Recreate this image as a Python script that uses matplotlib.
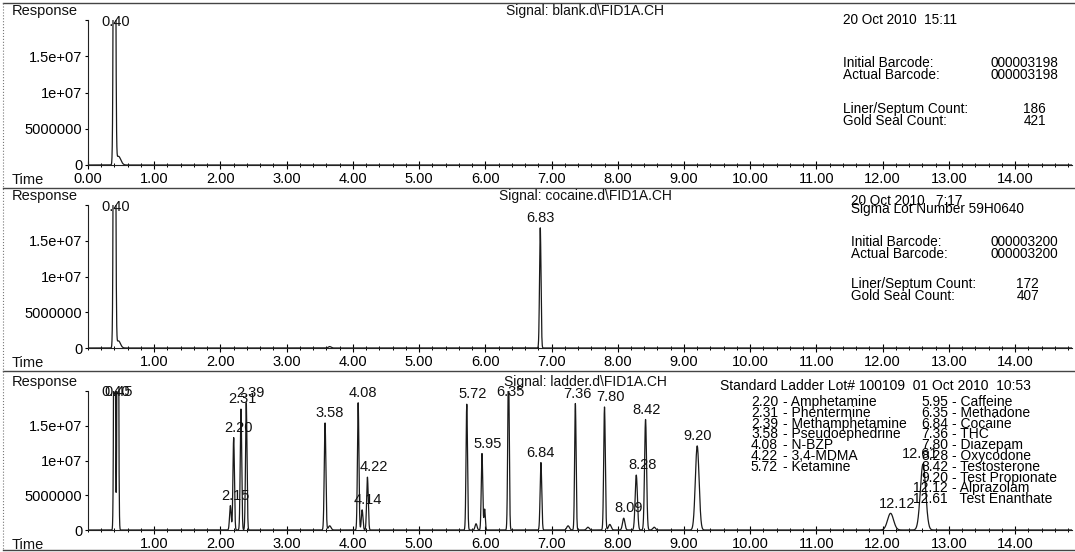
import numpy as np
import matplotlib.pyplot as plt
from matplotlib.lines import Line2D
from matplotlib.ticker import MultipleLocator

plt.rcParams['font.family'] = ['Liberation Sans', 'DejaVu Sans']

W, H = 1075, 552

# peak tables: retention time (min), height, sigma (min), label
blank_rt = [0.40, 0.46]
blank_height = [1.0e8, 1.2e6]
blank_width = [0.0125, 0.035]
blank_label = ['0.40', None]

cocaine_rt = [0.40, 0.46, 3.65, 6.83]
cocaine_height = [1.0e8, 1.0e6, 2.0e5, 1.68e7]
cocaine_width = [0.0125, 0.03, 0.02, 0.011]
cocaine_label = ['0.40', None, None, '6.83']

ladder_rt = [0.40, 0.45, 2.15, 2.20, 2.31, 2.39, 3.58, 3.65, 4.08, 4.14, 4.22,
             5.72, 5.86, 5.95, 5.99, 6.35, 6.84, 7.25, 7.36, 7.55, 7.80, 7.88,
             8.09, 8.28, 8.42, 8.55, 9.20, 12.12, 12.61]
ladder_height = [6.0e7, 6.0e7, 3.5e6, 1.33e7, 1.74e7, 1.83e7, 1.54e7, 6.0e5, 1.83e7, 2.9e6, 7.6e6,
                 1.81e7, 9.0e5, 1.1e7, 3.0e6, 2.4e7, 9.7e6, 6.0e5, 1.82e7, 4.0e5, 1.77e7, 8.0e5,
                 1.7e6, 7.9e6, 1.59e7, 4.0e5, 1.21e7, 2.4e6, 9.5e6]
ladder_width = [0.01, 0.01, 0.012, 0.011, 0.011, 0.011, 0.012, 0.02, 0.011, 0.012, 0.012,
                0.011, 0.015, 0.011, 0.01, 0.011, 0.012, 0.02, 0.011, 0.02, 0.012, 0.02,
                0.018, 0.017, 0.015, 0.02, 0.028, 0.045, 0.04]
ladder_label = ['0.40', '0.45', '2.15', '2.20', '2.31', '2.39', '3.58', None, '4.08', '4.14', '4.22',
                '5.72', None, '5.95', None, '6.35', '6.84', None, '7.36', None, '7.80', None,
                '8.09', '8.28', '8.42', None, '9.20', '12.12', '12.61']
# horizontal nudge of the peak labels (min)
ladder_label_dx = [0.02, 0.02, 0.07, 0.07, 0.02, 0.06, 0.07, 0, 0.07, 0.08, 0.09,
                   0.09, 0, 0.08, 0, 0.03, 0.0, 0, 0.03, 0, 0.09, 0,
                   0.07, 0.09, 0.02, 0, 0.01, 0.10, -0.05]

x_ticks = list(range(0, 15))
y_ticks = [0, 5e6, 1e7, 1.5e7, 2e7]
y_tick_labels = ['0', '5000000', '1e+07', '1.5e+07', '']

signals = ['Signal: blank.d\\FID1A.CH', 'Signal: cocaine.d\\FID1A.CH', 'Signal: ladder.d\\FID1A.CH']

ladder_left = [('2.20', 'Amphetamine'), ('2.31', 'Phentermine'), ('2.39', 'Methamphetamine'),
               ('3.58', 'Pseudoephedrine'), ('4.08', 'N-BZP'), ('4.22', '3,4-MDMA'), ('5.72', 'Ketamine')]
ladder_right = [('5.95', '- Caffeine'), ('6.35', '- Methadone'), ('6.84', '- Cocaine'), ('7.36', '- THC'),
                ('7.80', '- Diazepam'), ('8.28', '- Oxycodone'), ('8.42', '- Testosterone'),
                ('9.20', '- Test Propionate'), ('12.12', '- Alprazolam'), ('12.61', '  Test Enanthate')]


def fx(px):
    return px / W


def fy(py):
    return 1 - py / H


def trace(t, rt, height, width):
    y = np.zeros_like(t)
    for r, h, w in zip(rt, height, width):
        y += h * np.exp(-0.5 * ((t - r) / w) ** 2)
    return y


fig = plt.figure(figsize=(W / 100, H / 100), dpi=100)
t = np.arange(0, 14.86, 0.002)

# axes boxes in pixels: (top, bottom)
boxes = [(20, 165), (205, 348), (391, 530)]
panels = [(blank_rt, blank_height, blank_width, blank_label, [0.02, 0]),
          (cocaine_rt, cocaine_height, cocaine_width, cocaine_label, [0.02, 0, 0, 0]),
          (ladder_rt, ladder_height, ladder_width, ladder_label, ladder_label_dx)]

for i, ((top, bot), (rt, hh, ww, lab, dx)) in enumerate(zip(boxes, panels)):
    ax = fig.add_axes([fx(88), fy(bot), fx(1072 - 88), (bot - top) / H])
    ax.plot(t, trace(t, rt, hh, ww), color='#1a1a1a', lw=0.9)
    ax.set_xlim(0, 14.86)
    ax.set_ylim(0, 2.0e7)
    ax.patch.set_alpha(0)
    for s in ['top', 'right']:
        ax.spines[s].set_visible(False)
    ax.spines['left'].set_color('#222')
    ax.spines['bottom'].set_color('#222')
    ax.set_yticks(y_ticks)
    ax.set_yticklabels(y_tick_labels)
    xt = x_ticks if i == 0 else x_ticks[1:]
    ax.set_xticks(xt)
    ax.set_xticklabels([f'{v:.2f}' for v in xt])
    ax.xaxis.set_minor_locator(MultipleLocator(0.2))
    ax.tick_params(axis='x', which='major', direction='inout', length=6, width=0.8, pad=2, labelsize=10.5)
    ax.tick_params(axis='x', which='minor', direction='inout', length=3.5, width=0.7)
    ax.tick_params(axis='y', direction='out', length=2.5, width=0.8, pad=1.5, labelsize=10.5)

    for r, h, l, d in zip(rt, hh, lab, dx):
        if l is None:
            continue
        ax.annotate(l, (r + d, min(h, 1.84e7)), xytext=(0, 2), textcoords='offset points',
                    ha='center', va='bottom', fontsize=10.5, color='#111')

    fig.text(fx(12), fy(top - 9), 'Response', fontsize=10.5, va='center', ha='left', color='#111')
    fig.text(fx(12), fy(bot + 15), 'Time', fontsize=10.5, va='center', ha='left', color='#111')
    fig.text(fx(585), fy(top - 9), signals[i], fontsize=10, va='center', ha='center', color='#111')

# panel 1 info
fs = 9.8
fig.text(fx(843), fy(20), '20 Oct 2010  15:11', fontsize=fs, va='center')
fig.text(fx(843), fy(63), 'Initial Barcode:', fontsize=fs, va='center')
fig.text(fx(843), fy(75), 'Actual Barcode:', fontsize=fs, va='center')
fig.text(fx(1058), fy(63), '000003198', fontsize=fs, va='center', ha='right')
fig.text(fx(1058), fy(75), '000003198', fontsize=fs, va='center', ha='right')
fig.text(fx(843), fy(109), 'Liner/Septum Count:', fontsize=fs, va='center')
fig.text(fx(843), fy(121), 'Gold Seal Count:', fontsize=fs, va='center')
fig.text(fx(1046), fy(109), '186', fontsize=fs, va='center', ha='right')
fig.text(fx(1046), fy(121), '421', fontsize=fs, va='center', ha='right')

# panel 2 info
fig.text(fx(851), fy(201), '20 Oct 2010   7:17', fontsize=fs, va='center')
fig.text(fx(851), fy(209), 'Sigma Lot Number 59H0640', fontsize=fs, va='center')
fig.text(fx(851), fy(242), 'Initial Barcode:', fontsize=fs, va='center')
fig.text(fx(851), fy(254), 'Actual Barcode:', fontsize=fs, va='center')
fig.text(fx(1058), fy(242), '000003200', fontsize=fs, va='center', ha='right')
fig.text(fx(1058), fy(254), '000003200', fontsize=fs, va='center', ha='right')
fig.text(fx(851), fy(284), 'Liner/Septum Count:', fontsize=fs, va='center')
fig.text(fx(851), fy(296), 'Gold Seal Count:', fontsize=fs, va='center')
fig.text(fx(1039), fy(284), '172', fontsize=fs, va='center', ha='right')
fig.text(fx(1039), fy(296), '407', fontsize=fs, va='center', ha='right')

# panel 3 ladder key
fig.text(fx(720), fy(386), 'Standard Ladder Lot# 100109  01 Oct 2010  10:53', fontsize=10, va='center')
for k, (num, name) in enumerate(ladder_left):
    yy = 402 + 10.8 * k
    fig.text(fx(778), fy(yy), num, fontsize=10, va='center', ha='right')
    fig.text(fx(783), fy(yy), '- ' + name, fontsize=10, va='center', ha='left')
for k, (num, name) in enumerate(ladder_right):
    yy = 402 + 10.8 * k
    fig.text(fx(948), fy(yy), num, fontsize=10, va='center', ha='right')
    fig.text(fx(952), fy(yy), name, fontsize=10, va='center', ha='left')

# page rules of the printout
for yy in [3, 188, 371, 550]:
    fig.add_artist(Line2D([fx(3), fx(1075)], [fy(yy), fy(yy)], color='#444', lw=1.0))
fig.add_artist(Line2D([fx(3), fx(3)], [fy(3), fy(550)], color='#777', lw=0.8, ls=':'))

fig.savefig('out.png', dpi=100)
